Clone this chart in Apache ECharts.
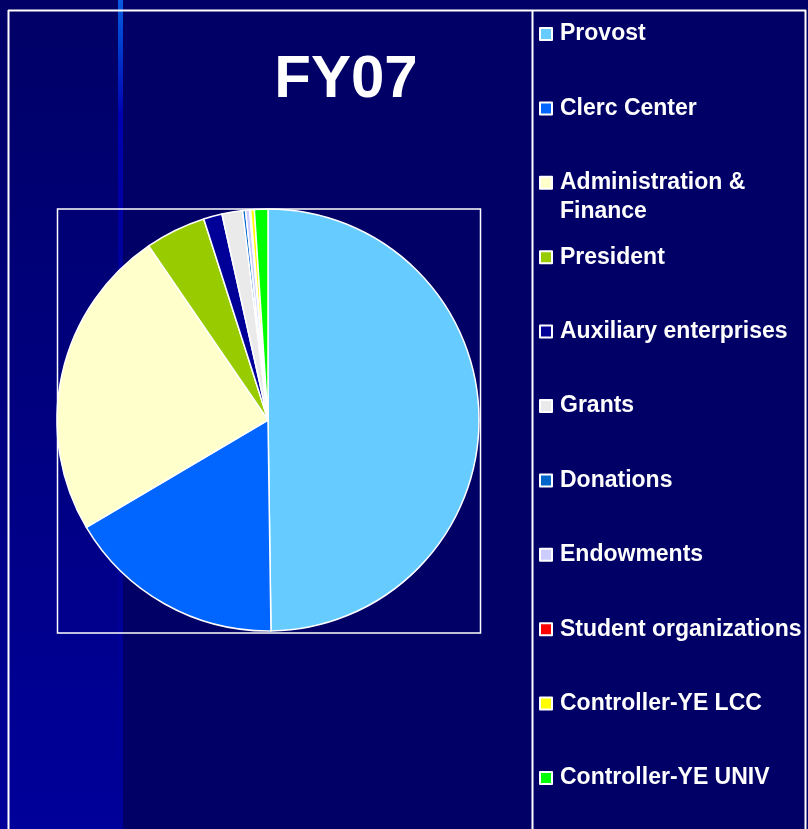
<!DOCTYPE html>
<html>
<head>
<meta charset="utf-8">
<script src="https://cdn.jsdelivr.net/npm/echarts@6/dist/echarts.min.js"></script>
<style>
html,body{margin:0;padding:0;background:#000066;}
#chart{width:808px;height:829px;}
</style>
</head>
<body>
<div id="chart"></div>
<script>
// Data (percent of total, FY07)
const categories = ["Provost", "Clerc Center", "Administration & Finance", "President", "Auxiliary enterprises", "Grants", "Donations", "Endowments", "Student organizations", "Controller-YE LCC", "Controller-YE UNIV"];
const values = [49.75, 16.72, 23.92, 4.64, 1.42, 1.58, 0.22, 0.31, 0.08, 0.28, 1.03];
const colors = ["#66ccff", "#0066ff", "#ffffcc", "#99cc00", "#000099", "#eaeaea", "#0066cc", "#ccccff", "#ff0000", "#ffff00", "#00ff00"];
const titleText = "FY07";

const FONT = "'Liberation Sans', Arial, sans-serif";
const chart = echarts.init(document.getElementById('chart'));

const legendCenters = categories.map((_, i) => 34 + i * 74.4);
const legends = categories.map((name, i) => {
  const multi = name === "Administration & Finance";
  return {
    data: [name],
    orient: 'vertical',
    left: 539,
    top: multi ? legendCenters[i] - 43.5 : legendCenters[i] - 13,
    padding: 0,
    itemWidth: 12,
    itemHeight: 12,
    icon: 'rect',
    selectedMode: false,
    itemStyle: { borderColor: '#ffffff', borderWidth: 2 },
    formatter: n => n === "Administration & Finance" ? "\nAdministration &\nFinance" : n,
    textStyle: {
      color: '#ffffff',
      fontSize: 23,
      fontWeight: 'bold',
      fontFamily: FONT,
      lineHeight: multi ? 29 : 26,
      padding: [0, 0, 0, 3]
    }
  };
});

chart.setOption({
  backgroundColor: '#000066',
  animation: false,
  title: {
    text: titleText,
    left: 346,
    top: 50,
    padding: 0,
    textAlign: 'center',
    textStyle: { color: '#ffffff', fontSize: 60, fontWeight: 'bold', fontFamily: FONT, lineHeight: 60 }
  },
  graphic: [
    { type: 'rect', z: -10, silent: true, shape: { x: 0, y: 0, width: 118, height: 829 },
      style: { fill: new echarts.graphic.LinearGradient(0, 0, 0, 1, [
        { offset: 0, color: '#000066' }, { offset: 1, color: '#00009a' }]) } },
    { type: 'rect', z: -9, silent: true, shape: { x: 118, y: 0, width: 5, height: 829 },
      style: { fill: new echarts.graphic.LinearGradient(0, 0, 0, 1, [
        { offset: 0, color: '#0a5ae0' }, { offset: 0.05, color: '#0040d0' },
        { offset: 0.14, color: '#0000b0' }, { offset: 0.4, color: '#000090' }, { offset: 1, color: '#00009a' }]) } },
    { type: 'line', silent: true, shape: { x1: 8, y1: 10.5, x2: 806, y2: 10.5 }, style: { stroke: '#ffffff', lineWidth: 2 } },
    { type: 'line', silent: true, shape: { x1: 8.5, y1: 10, x2: 8.5, y2: 829 }, style: { stroke: '#ffffff', lineWidth: 2 } },
    { type: 'line', silent: true, shape: { x1: 805.5, y1: 10, x2: 805.5, y2: 829 }, style: { stroke: '#ffffff', lineWidth: 2 } },
    { type: 'line', silent: true, shape: { x1: 532.5, y1: 10, x2: 532.5, y2: 829 }, style: { stroke: '#ffffff', lineWidth: 2 } },
    { type: 'rect', silent: true, shape: { x: 57.5, y: 209, width: 423, height: 424 }, style: { fill: 'none', stroke: '#ffffff', lineWidth: 1.5 } }
  ],
  legend: legends,
  series: [{
    type: 'pie',
    center: [268, 420],
    radius: 211,
    startAngle: 90,
    clockwise: true,
    avoidLabelOverlap: false,
    label: { show: false },
    labelLine: { show: false },
    emphasis: { disabled: true },
    itemStyle: { borderColor: '#ffffff', borderWidth: 1.5 },
    data: categories.map((name, i) => ({ name: name, value: values[i], itemStyle: { color: colors[i] } }))
  }]
});
</script>
</body>
</html>
